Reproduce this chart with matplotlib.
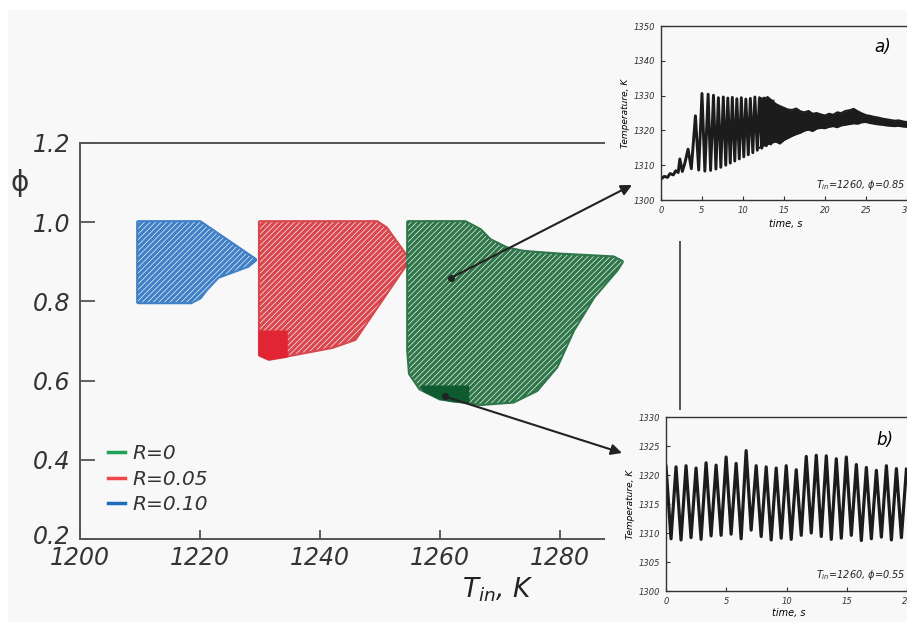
import numpy as np
import matplotlib.pyplot as plt
from matplotlib.patches import Polygon, Rectangle
from matplotlib.lines import Line2D
from matplotlib.transforms import ScaledTranslation

plt.rcParams['font.family'] = ['DejaVu Sans']
plt.rcParams['font.style'] = 'italic'
plt.rcParams['mathtext.fontset'] = 'dejavusans'
plt.rcParams['hatch.linewidth'] = 0.45

# ---- stability map regions (T_in, phi) ----
blue_region = [(1209.7, 1.0), (1220.0, 1.0), (1229.2, 0.905), (1228.0, 0.89), (1223.0, 0.862),
               (1221.0, 0.83), (1220.0, 0.81), (1218.5, 0.798), (1209.7, 0.798)]
red_region = [(1230.0, 1.0), (1249.5, 1.0), (1251.0, 0.985), (1254.8, 0.905), (1245.8, 0.705),
              (1242.0, 0.685), (1231.5, 0.655), (1230.0, 0.665)]
red_core = [(1230.0, 0.723), (1234.4, 0.723), (1234.4, 0.661), (1231.5, 0.655), (1230.0, 0.665)]
green_region = [(1254.7, 1.0), (1264.2, 1.0), (1266.7, 0.98), (1268.3, 0.955), (1271.1, 0.934),
                (1273.9, 0.925), (1280.0, 0.918), (1288.9, 0.911), (1290.3, 0.9), (1289.4, 0.879),
                (1285.6, 0.812), (1282.2, 0.728), (1279.4, 0.635), (1276.1, 0.576), (1272.2, 0.547),
                (1266.7, 0.541), (1260.0, 0.555), (1256.7, 0.58), (1255.0, 0.618), (1254.7, 0.677)]
green_core = [(1256.9, 0.585), (1264.7, 0.585), (1264.7, 0.545), (1262.0, 0.548), (1260.0, 0.555),
              (1257.5, 0.572)]
arrow_from = [(1261.9, 0.86), (1260.8, 0.56)]

legend_labels = ['R=0', 'R=0.05', 'R=0.10']
legend_colors = ['#22a055', '#f0474a', '#1f6cbf']

# ---- inset a) time trace, T_in=1260, phi=0.85 ----
a_t = [0.0, 0.4, 0.8, 1.1, 1.5, 1.8, 2.1, 2.3, 2.6, 2.9, 3.3, 3.7, 4.2, 4.6, 5.0, 5.35, 5.75, 6.05,
       6.4, 6.7, 7.0, 7.3, 7.6, 7.9, 8.15, 8.45, 8.7, 9.0, 9.25, 9.55, 9.8, 10.1, 10.35, 10.65,
       10.9, 11.2, 11.45, 11.75, 12.0, 12.3, 12.55, 12.85, 13.1, 13.4, 13.65]
a_T = [1306.0, 1306.8, 1306.5, 1307.6, 1307.2, 1308.4, 1307.9, 1311.8, 1308.2, 1310.5, 1314.6,
       1309.0, 1324.2, 1308.6, 1330.6, 1308.3, 1330.4, 1308.5, 1330.1, 1308.9, 1329.4, 1309.4,
       1329.6, 1310.0, 1329.3, 1310.6, 1329.5, 1311.2, 1329.1, 1311.8, 1329.4, 1312.4, 1329.0,
       1313.0, 1329.2, 1313.6, 1329.6, 1314.3, 1329.0, 1314.9, 1329.3, 1315.6, 1328.8, 1316.1,
       1328.4]
band_t = [12.0, 12.5, 13.0, 13.5, 14.0, 14.5, 15.0, 15.5, 16.0, 16.5, 17.0, 17.5, 18.0, 18.5,
          19.0, 19.5, 20.0, 20.5, 21.0, 21.5, 22.0, 22.5, 23.0, 23.5, 24.0, 24.5, 25.0, 25.5,
          26.0, 26.5, 27.0, 27.5, 28.0, 28.5, 29.0, 29.5, 30.0, 30.5]
band_hi = [1329.5, 1328.9, 1329.6, 1328.6, 1327.6, 1327.0, 1326.5, 1326.0, 1325.9, 1326.3,
           1325.5, 1325.2, 1325.6, 1324.8, 1325.0, 1324.6, 1324.3, 1324.8, 1324.5, 1325.2,
           1325.0, 1325.6, 1325.8, 1326.2, 1325.5, 1324.9, 1324.4, 1324.2, 1323.9, 1323.7,
           1323.4, 1323.2, 1323.0, 1322.8, 1322.9, 1322.6, 1322.4, 1322.5]
band_lo = [1315.0, 1315.6, 1316.0, 1316.4, 1316.8, 1316.2, 1317.2, 1317.8, 1318.4, 1318.9,
           1319.3, 1319.9, 1320.2, 1319.8, 1320.5, 1320.7, 1320.6, 1321.0, 1321.2, 1320.9,
           1321.4, 1321.6, 1321.8, 1322.0, 1321.9, 1322.3, 1322.4, 1322.1, 1321.9, 1321.7,
           1321.6, 1321.4, 1321.3, 1321.2, 1321.3, 1321.1, 1321.0, 1321.0]

# ---- inset b) time trace, T_in=1260, phi=0.55 (alternating peaks / troughs) ----
b_dt = 0.415
b_T = [1321.5, 1309.0, 1321.4, 1308.8, 1321.6, 1309.2, 1321.2, 1308.9, 1322.1, 1309.5, 1321.7,
       1309.6, 1323.1, 1309.8, 1322.0, 1309.0, 1324.2, 1310.5, 1321.6, 1309.4, 1321.4, 1308.8,
       1321.2, 1309.1, 1321.6, 1308.9, 1320.9, 1309.6, 1323.2, 1310.0, 1323.4, 1309.4, 1323.3,
       1308.9, 1322.8, 1309.1, 1323.1, 1309.6, 1321.8, 1308.7, 1321.3, 1309.0, 1320.8, 1309.3,
       1321.6, 1308.8, 1321.1, 1309.2, 1321.0]
b_t = np.arange(len(b_T)) * b_dt

W, H = 907, 622
BG = '#f8f8f8'
INK = '#1c1c1c'
fig = plt.figure(figsize=(W / 100, H / 100), dpi=100, facecolor=BG)


def fx(px):
    return px / W


def fy(py):
    return 1 - py / H


# ---------------- main chart ----------------
ax = fig.add_axes([fx(80), fy(539), 600 / W, 396 / H])
ax.set_facecolor('none')
ax.set_xlim(1200, 1300)
ax.set_ylim(0.2, 1.2)

shapes = [(blue_region, '#3f80c6'), (red_region, '#d8474e'), (green_region, '#2f774a')]
for verts, col in shapes:
    ax.add_patch(Polygon(verts, closed=True, facecolor=col, edgecolor=col, lw=3,
                         joinstyle='round', zorder=2))
    ax.add_patch(Polygon(verts, closed=True, facecolor='none', edgecolor='white', lw=0,
                         hatch='//////', zorder=3))
ax.add_patch(Polygon(red_core, closed=True, facecolor='#e22533', edgecolor='#e22533', lw=2,
                     joinstyle='round', zorder=4))
ax.add_patch(Polygon(green_core, closed=True, facecolor='#0f5a30', edgecolor='#0f5a30', lw=1.5,
                     joinstyle='round', zorder=4))

ax.set_xticks([1200, 1220, 1240, 1260, 1280])
ax.set_yticks([0.2, 0.4, 0.6, 0.8, 1.0, 1.2])
ax.set_yticklabels(['%.1f' % v for v in [0.2, 0.4, 0.6, 0.8, 1.0, 1.2]])
ax.tick_params(axis='y', direction='in', length=10.8, width=1.3, pad=7, labelsize=17,
               color='#555555', labelcolor='#333333')
ax.tick_params(axis='x', direction='in', length=6.5, width=1.3, pad=5, labelsize=17,
               color='#555555', labelcolor='#333333')
for s in ax.spines.values():
    s.set_color('#555555')
    s.set_linewidth(1.4)
# lift the lowest phi label a little, as in the original
low = ax.get_yticklabels()[0]
low.set_transform(low.get_transform() + ScaledTranslation(0, 5 / 100, fig.dpi_scale_trans))

handles = [Line2D([], [], color=c, lw=2.5) for c in legend_colors]
leg = ax.legend(handles, legend_labels, loc='upper left', bbox_to_anchor=(fx(108), fy(444)),
                bbox_transform=fig.transFigure, frameon=False, fontsize=14.5, handlelength=0.85,
                handletextpad=0.35, labelspacing=0.33, borderpad=0, borderaxespad=0)
for t in leg.get_texts():
    t.set_color('#333333')

fig.text(fx(20), fy(183), '\u03d5', fontsize=20, style='normal', color='#333333',
         ha='center', va='center')
fig.text(fx(498), fy(590), r'$T_{in}$, K', fontsize=19, color='#222222', ha='center', va='center')

# covers behind the insets
ax.add_patch(Rectangle((fx(605), fy(241)), 302 / W, 241 / H, transform=fig.transFigure,
                       facecolor=BG, edgecolor='none', clip_on=False, zorder=5))
ax.add_patch(Rectangle((fx(605), 0), 302 / W, fy(410), transform=fig.transFigure,
                       facecolor=BG, edgecolor='none', clip_on=False, zorder=5))

targets = [(fx(632), fy(185)), (fx(622), fy(453))]
for (x0, y0), tgt in zip(arrow_from, targets):
    ax.plot([x0], [y0], 'o', color='#222222', ms=4, zorder=6)
    ax.annotate('', xy=tgt, xycoords='figure fraction', xytext=(x0, y0), textcoords='data',
                arrowprops=dict(arrowstyle='-|>', color='#222222', lw=1.5, mutation_scale=16,
                                shrinkA=0, shrinkB=0),
                zorder=6, annotation_clip=False)


def style_inset(a):
    a.set_facecolor(BG)
    a.tick_params(direction='in', length=3, width=0.8, labelsize=6, pad=4,
                  color='#333333', labelcolor='#333333')
    for s in a.spines.values():
        s.set_color('#333333')
        s.set_linewidth(1.0)


# ---------------- inset a ----------------
axa = fig.add_axes([fx(661), fy(200), 250 / W, 174 / H])
style_inset(axa)
axa.set_xlim(0, 30.5)
axa.set_ylim(1300, 1350)
axa.set_xticks([0, 5, 10, 15, 20, 25, 30])
axa.set_yticks([1300, 1310, 1320, 1330, 1340, 1350])
axa.plot(a_t, a_T, color=INK, lw=2.1, solid_joinstyle='round')
axa.fill_between(band_t, band_lo, band_hi, color=INK, lw=0)
axa.plot(band_t, band_hi, color=INK, lw=1.4)
axa.plot(band_t, band_lo, color=INK, lw=1.4)
axa.set_ylabel('Temperature, K', fontsize=6.5, labelpad=3)
axa.set_xlabel('time, s', fontsize=7, labelpad=3)
axa.text(0.888, 0.879, 'a)', transform=axa.transAxes, fontsize=12, ha='center', va='center')
axa.text(0.976, 0.086, r'$T_{in}$=1260, $\phi$=0.85', transform=axa.transAxes, fontsize=7,
         ha='right', va='center', color='#222222')

# ---------------- inset b ----------------
axb = fig.add_axes([fx(666), fy(591), 245 / W, 174 / H])
style_inset(axb)
axb.set_xlim(0, 20.3)
axb.set_ylim(1300, 1330)
axb.set_xticks([0, 5, 10, 15, 20])
axb.set_yticks([1300, 1305, 1310, 1315, 1320, 1325, 1330])
axb.plot(b_t, b_T, color=INK, lw=2.3, solid_joinstyle='round')
axb.set_ylabel('Temperature, K', fontsize=6.5, labelpad=3)
axb.set_xlabel('time, s', fontsize=7, labelpad=2)
axb.text(0.894, 0.868, 'b)', transform=axb.transAxes, fontsize=12, ha='center', va='center')
axb.text(0.976, 0.092, r'$T_{in}$=1260, $\phi$=0.55', transform=axb.transAxes, fontsize=7,
         ha='right', va='center', color='#222222')

# white margins of the scanned page
fig.add_artist(Rectangle((0, fy(10)), 1, 10 / H, transform=fig.transFigure,
                         facecolor='white', edgecolor='none', zorder=10))
fig.add_artist(Rectangle((0, 0), fx(8), 1, transform=fig.transFigure,
                         facecolor='white', edgecolor='none', zorder=10))

fig.savefig('out.png', dpi=100, facecolor=BG)
